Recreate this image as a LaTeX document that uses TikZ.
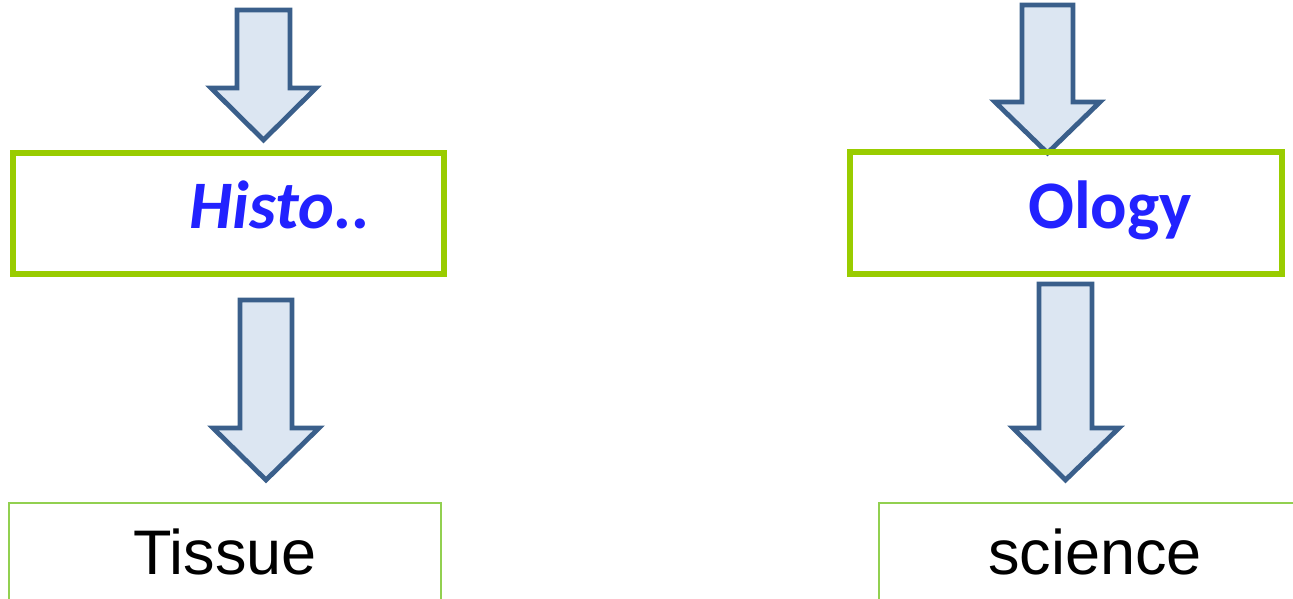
\documentclass[tikz,border=0pt]{standalone}
\usepackage{fontspec}
\setmainfont{Liberation Sans}
\newfontfamily\calib{Carlito}
\definecolor{arrowline}{HTML}{3A5F8B}
\definecolor{arrowfill}{HTML}{DCE6F2}
\definecolor{boxgreen}{HTML}{99CC00}
\definecolor{thingreen}{HTML}{92D050}
\definecolor{txtblue}{HTML}{2222FF}
\tikzset{
  blockarrow/.style={draw=arrowline, fill=arrowfill, line width=4.8pt, line join=miter},
  greenbox/.style={draw=boxgreen, line width=6pt},
  thinbox/.style={draw=thingreen, line width=2pt},
  bluetext/.style={text=txtblue, font=\calib\bfseries\fontsize{68}{80}\selectfont, anchor=base, inner sep=0pt},
  blacktext/.style={text=black, font=\fontsize{63}{75}\selectfont, anchor=base, inner sep=0pt}
}
\begin{document}
\begin{tikzpicture}[x=1pt,y=-1pt]
\useasboundingbox (0,0) rectangle (1293,598);
% arrows
\draw[blockarrow] (237,10) -- (290,10) -- (290,88) -- (316,88) -- (263.5,140) -- (211,88) -- (237,88) -- cycle;
\draw[blockarrow] (240,300) -- (292,300) -- (292,428) -- (319,428) -- (266,480) -- (213,428) -- (240,428) -- cycle;
\draw[blockarrow] (1022,5) -- (1073,5) -- (1073,102) -- (1100,102) -- (1047.5,153) -- (995,102) -- (1022,102) -- cycle;
\draw[blockarrow] (1039,284) -- (1092,284) -- (1092,428) -- (1119,428) -- (1065.5,480) -- (1013,428) -- (1039,428) -- cycle;
% boxes
\draw[greenbox] (13,153) rectangle (444,274);
\draw[greenbox] (850,152) rectangle (1282,274);
\draw[thinbox] (9,600) -- (9,503) -- (441,503) -- (441,600);
\draw[thinbox] (879,600) -- (879,503) -- (1300,503);
% texts
\node[bluetext] (histo) at (280,228) {\itshape Histo..};
\node[bluetext] (ology) at (1110,228) {Ology};
\node[blacktext] (tissue) at (225,574) {Tissue};
\node[blacktext] (science) at (1095,574) {science};
\end{tikzpicture}
\end{document}
